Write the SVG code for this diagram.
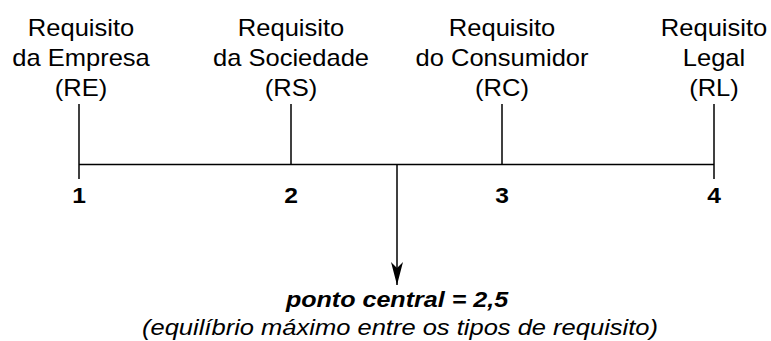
<svg xmlns="http://www.w3.org/2000/svg" width="771" height="341" viewBox="0 0 771 341">
<style>
.lbl{font-family:"Liberation Sans",Arial,sans-serif;font-size:23px;fill:#000;text-anchor:middle}
.num{font-family:"Liberation Sans",Arial,sans-serif;font-size:22px;font-weight:bold;fill:#000;text-anchor:middle}
.cap{font-family:"Liberation Sans",Arial,sans-serif;font-size:22px;fill:#000;text-anchor:middle;font-style:italic}
.ln{stroke:#000;stroke-width:1.5;fill:none}
</style>
<defs>
<marker id="ah" markerUnits="userSpaceOnUse" markerWidth="24" markerHeight="14" refX="23" refY="7" orient="auto" viewBox="0 0 24 14">
<path d="M0,1 L23,7 L0,13 L6,7 Z" fill="#000"/>
</marker>
</defs>
<rect width="771" height="341" fill="#fff"/>
<g id="connectors">
<line class="ln" x1="79" y1="164.5" x2="714" y2="164.5"/>
<line class="ln" x1="79" y1="104" x2="79" y2="179"/>
<line class="ln" x1="291" y1="104" x2="291" y2="164.5"/>
<line class="ln" x1="502" y1="104" x2="502" y2="164.5"/>
<line class="ln" x1="714" y1="104" x2="714" y2="179"/>
<line class="ln" x1="397" y1="164.5" x2="397" y2="285" marker-end="url(#ah)"/>
</g>
<g id="RE">
<g transform="translate(81,0) scale(1.11,1)">
<text class="lbl" x="0" y="36.5">Requisito</text>
<text class="lbl" x="0" y="66">da Empresa</text>
<text class="lbl" x="0" y="96">(RE)</text>
</g>
<text class="num" transform="translate(79,0) scale(1.12,1)" x="0" y="203">1</text>
</g>
<g id="RS">
<g transform="translate(291,0) scale(1.11,1)">
<text class="lbl" x="0" y="36.5">Requisito</text>
<text class="lbl" x="0" y="66">da Sociedade</text>
<text class="lbl" x="0" y="96">(RS)</text>
</g>
<text class="num" transform="translate(291,0) scale(1.12,1)" x="0" y="203">2</text>
</g>
<g id="RC">
<g transform="translate(502,0) scale(1.11,1)">
<text class="lbl" x="0" y="36.5">Requisito</text>
<text class="lbl" x="0" y="66">do Consumidor</text>
<text class="lbl" x="0" y="96">(RC)</text>
</g>
<text class="num" transform="translate(502,0) scale(1.12,1)" x="0" y="203">3</text>
</g>
<g id="RL">
<g transform="translate(714,0) scale(1.11,1)">
<text class="lbl" x="0" y="36.5">Requisito</text>
<text class="lbl" x="0" y="66">Legal</text>
<text class="lbl" x="0" y="96">(RL)</text>
</g>
<text class="num" transform="translate(714,0) scale(1.12,1)" x="0" y="203">4</text>
</g>
<g id="center">
<text class="cap" transform="translate(397,0) scale(1.14,1)" x="0" y="307" font-weight="bold">ponto central = 2,5</text>
<text class="cap" transform="translate(400,0) scale(1.16,1)" x="0" y="335">(equilíbrio máximo entre os tipos de requisito)</text>
</g>
</svg>
